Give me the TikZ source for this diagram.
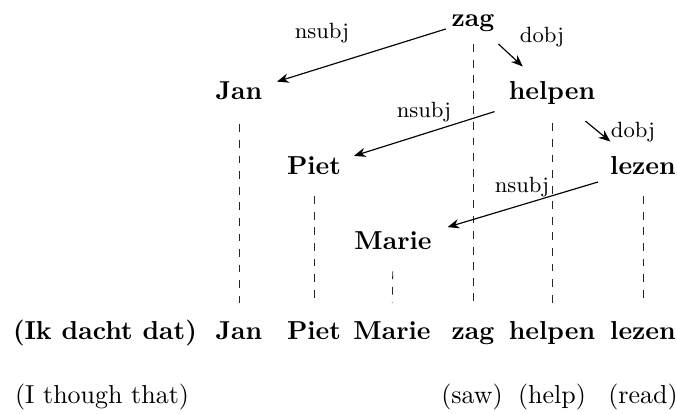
\documentclass[tikz,border=0pt]{standalone}
\usetikzlibrary{arrows.meta}
\begin{document}
\begin{tikzpicture}[x=0.385pt,y=-0.385pt,
  word/.style={font=\bfseries, anchor=base, inner sep=3pt, text height=7pt, text depth=2pt},
  gloss/.style={anchor=base, inner sep=3pt},
  rel/.style={font=\fontsize{8.5}{10}\selectfont, inner sep=1pt},
  dep/.style={-{Stealth[length=4.5pt,width=3.6pt]}, line width=0.45pt},
  guide/.style={dashed, line width=0.3pt, black!85, shorten >=4pt}]
\useasboundingbox (0,0) rectangle (677,414);

% dependency tree
\node[word] (tzag)    at (473,27)  {zag};
\node[word] (tjan)    at (239,100) {Jan};
\node[word] (thelpen) at (552,100) {helpen};
\node[word] (tpiet)   at (314,175) {Piet};
\node[word] (tlezen)  at (643,175) {lezen};
\node[word] (tmarie)  at (393,250) {Marie};

% sentence
\node[word] (ikdacht) at (105,340) {(Ik dacht dat)};
\node[word] (bjan)    at (239,340) {Jan};
\node[word] (bpiet)   at (314,340) {Piet};
\node[word] (bmarie)  at (392,340) {Marie};
\node[word] (bzag)    at (473,340) {zag};
\node[word] (bhelpen) at (552,340) {helpen};
\node[word] (blezen)  at (643,340) {lezen};

% glosses
\node[gloss] (gthat) at (102,404) {(I though that)};
\node[gloss] (gsaw)  at (472,404) {(saw)};
\node[gloss] (ghelp) at (552,404) {(help)};
\node[gloss] (gread) at (643,404) {(read)};

% projection lines
\draw[guide, shorten <=1.4pt] (tzag) -- (bzag);
\draw[guide, shorten <=4.2pt] (tjan) -- (bjan);
\draw[guide, shorten <=3.8pt] (thelpen) -- (bhelpen);
\draw[guide, shorten <=3pt] (tpiet) -- (bpiet);
\draw[guide, shorten <=3pt] (tlezen) -- (blezen);
\draw[guide, shorten <=3pt] (tmarie) -- (bmarie);

% dependency arcs
\draw[dep, shorten <=-1pt, shorten >=2.6pt] (tzag) -- (tjan);
\draw[dep, shorten <=2pt, shorten >=4pt] (tzag) -- (thelpen);
\draw[dep, shorten <=2.4pt, shorten >=1.9pt] (thelpen) -- (tpiet);
\draw[dep, shorten <=4.6pt, shorten >=4.2pt] (thelpen) -- (tlezen);
\draw[dep, shorten <=1.6pt, shorten >=3.1pt] (tlezen) -- (tmarie);

% relation labels
\node[rel] (r1) at (322,33)  {nsubj};
\node[rel] (r2) at (542,37)  {dobj};
\node[rel] (r3) at (424,112) {nsubj};
\node[rel] (r4) at (633,132) {dobj};
\node[rel] (r5) at (522,187) {nsubj};
\end{tikzpicture}
\end{document}
